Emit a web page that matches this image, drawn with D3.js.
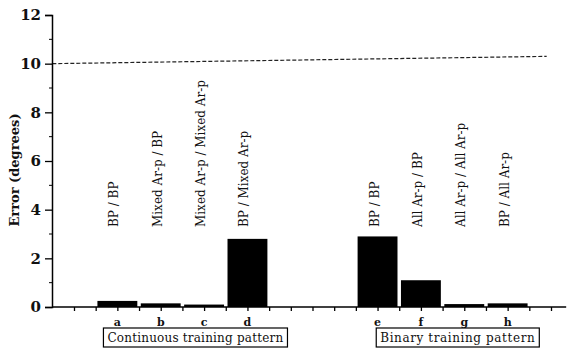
<!DOCTYPE html>
<html lang="en">
<head>
  <meta charset="UTF-8">
  <title>Error by training pattern</title>
  <script src="https://d3js.org/d3.v7.min.js"></script>
  <style>
    body { margin: 0; background: white; }
    text { font-family: "DejaVu Serif", "Liberation Serif", serif; fill: #111; }
  </style>
</head>
<body>
  <svg width="571" height="349"></svg>
  <script>
    // data
    const letters = ["a", "b", "c", "d", "e", "f", "g", "h"];
    const slots = [2, 4, 6, 8, 14, 16, 18, 20];
    const errors = [0.25, 0.15, 0.1, 2.8, 2.9, 1.1, 0.12, 0.15];
    const methods = ["BP / BP", "Mixed Ar-p / BP", "Mixed Ar-p / Mixed Ar-p", "BP / Mixed Ar-p",
                     "BP / BP", "All Ar-p / BP", "All Ar-p / All Ar-p", "BP / All Ar-p"];
    const yTicks = [0, 2, 4, 6, 8, 10, 12];
    const refLine = [[-1, 10], [21.8, 10.3]];
    const groups = [{name: "Continuous training pattern", center: 5.6, spacing: 0.2},
                    {name: "Binary training pattern", center: 17.7, spacing: 0.6}];

    const svg = d3.select("svg");
    const x = d3.scaleLinear().domain([0, 22]).range([74, 551]);
    const y = d3.scaleLinear().domain([0, 12]).range([307, 15]);
    const barW = x(1.84) - x(0);

    // bars
    svg.append("g").selectAll("rect")
      .data(errors)
      .enter().append("rect")
      .attr("x", (d, i) => x(slots[i]) - barW / 2)
      .attr("width", barW)
      .attr("y", d => y(d))
      .attr("height", d => y(0) - y(d))
      .attr("fill", "#000");

    // dashed reference line at 10 degrees
    svg.append("path")
      .attr("d", d3.line().x(d => x(d[0])).y(d => y(d[1]))(refLine))
      .attr("stroke", "#222")
      .attr("stroke-width", 1.2)
      .attr("stroke-dasharray", "4,2")
      .attr("fill", "none");

    // y axis
    const yAxis = d3.axisLeft(y).tickValues(yTicks).tickSize(7).tickPadding(4);
    const gy = svg.append("g").attr("transform", "translate(52,0)").call(yAxis);
    gy.select(".domain").attr("stroke", "#000").attr("stroke-width", 1.5);
    gy.selectAll(".tick line").attr("stroke", "#000").attr("stroke-width", 1.3);
    gy.selectAll(".tick text")
      .style("font-family", "'DejaVu Serif', serif")
      .style("font-weight", "bold")
      .style("font-size", "15px")
      .attr("fill", "#000");
    gy.selectAll(".minor")
      .data(d3.range(1, 12, 2))
      .enter().append("line")
      .attr("class", "minor")
      .attr("x1", -3).attr("x2", 0)
      .attr("y1", d => y(d)).attr("y2", d => y(d))
      .attr("stroke", "#000");

    svg.append("text")
      .attr("transform", "translate(19," + 170 + ") rotate(-90)")
      .attr("text-anchor", "middle")
      .style("font-family", "'DejaVu Serif', serif")
      .style("font-weight", "bold")
      .style("font-size", "13px")
      .text("Error (degrees)");

    // x axis
    const xAxis = d3.axisBottom(x).tickValues(d3.range(0, 23)).tickSize(4).tickFormat("");
    const gx = svg.append("g").attr("transform", "translate(0," + y(0) + ")").call(xAxis);
    gx.select(".domain").remove();
    gx.selectAll(".tick line").attr("stroke", "#000").attr("stroke-width", 1.3);
    gx.append("line")
      .attr("x1", 52).attr("x2", x(22.7))
      .attr("stroke", "#000").attr("stroke-width", 1.5);

    // letters under bars
    svg.append("g").selectAll("text")
      .data(letters)
      .enter().append("text")
      .attr("x", (d, i) => x(slots[i]))
      .attr("y", 326)
      .attr("text-anchor", "middle")
      .style("font-weight", "bold")
      .style("font-size", "11px")
      .text(d => d);

    // rotated method labels
    svg.append("g").selectAll("text")
      .data(methods)
      .enter().append("text")
      .attr("transform", (d, i) => "translate(" + (x(slots[i]) + 1) + ",227) rotate(-90)")
      .attr("text-anchor", "start")
      .style("font-size", "12px")
      .text(d => d);

    // group boxes
    groups.forEach(g => {
      const box = svg.append("g");
      const r = box.append("rect");
      const t = box.append("text")
        .attr("x", x(g.center))
        .attr("y", 342)
        .attr("text-anchor", "middle")
        .style("font-size", "12px")
        .style("letter-spacing", g.spacing + "px")
        .text(g.name);
      const bb = t.node().getBBox();
      r.attr("x", bb.x - 4).attr("y", 328)
        .attr("width", bb.width + 8).attr("height", 19)
        .attr("fill", "white").attr("stroke", "#000").attr("stroke-width", 1.2);
    });
  </script>
</body>
</html>
